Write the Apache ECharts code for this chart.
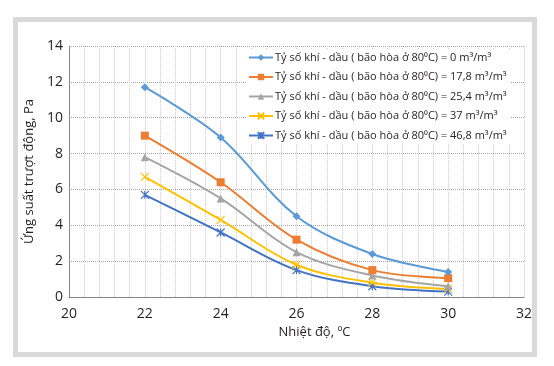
<!DOCTYPE html>
<html><head><meta charset="utf-8">
<script src="https://cdn.jsdelivr.net/npm/echarts@6/dist/echarts.min.js"></script>
<style>html,body{margin:0;padding:0;background:#fff}#c{width:554px;height:366px}</style>
</head><body><div id="c"></div>
<script>
var temps = [22, 24, 26, 28, 30];
var seriesNames = [
  'Tỷ số khí - dầu ( bão hòa ở 80⁰C) = 0 m³/m³',
  'Tỷ số khí - dầu ( bão hòa ở 80⁰C) = 17,8 m³/m³',
  'Tỷ số khí - dầu ( bão hòa ở 80⁰C) = 25,4 m³/m³',
  'Tỷ số khí - dầu ( bão hòa ở 80⁰C) = 37 m³/m³',
  'Tỷ số khí - dầu ( bão hòa ở 80⁰C) = 46,8 m³/m³'
];
var s0 = [11.7, 8.9, 4.5, 2.4, 1.4];
var s1 = [9.0, 6.4, 3.2, 1.5, 1.05];
var s2 = [7.8, 5.5, 2.5, 1.2, 0.6];
var s3 = [6.7, 4.3, 1.8, 0.8, 0.45];
var s4 = [5.7, 3.6, 1.5, 0.6, 0.3];
var colors = ['#5B9BD5', '#ED7D31', '#A5A5A5', '#FFC000', '#4472C4'];
var symbols = ['diamond', 'rect', 'triangle',
  'path://M0,0L10,10M10,0L0,10',
  'path://M0,0L10,10M10,0L0,10M5,0L5,10'];
var sizes = [8, 8, 8, 8, 8];
var allData = [s0, s1, s2, s3, s4];

var FONT = 'Open Sans';
var chart = echarts.init(document.getElementById('c'));
var series = allData.map(function (d, i) {
  return {
    name: seriesNames[i], type: 'line', smooth: 0.35,
    data: temps.map(function (t, j) { return [t, d[j]]; }),
    symbol: symbols[i], symbolSize: sizes[i],
    lineStyle: { color: colors[i], width: 2 },
    itemStyle: { color: colors[i], borderColor: colors[i], borderWidth: i >= 3 ? 1.2 : 0 },
    z: 10 - i
  };
});
chart.setOption({
  animation: false,
  textStyle: { fontFamily: FONT },
  grid: { left: 69, right: 30, top: 46, bottom: 69 },
  graphic: [{
    type: 'rect', shape: { x: 15.5, y: 19.5, width: 519, height: 335 },
    style: { fill: 'none', stroke: '#d9d9d9', lineWidth: 5 }, z: -1
  }],
  legend: {
    orient: 'vertical', left: 246, top: 50, itemGap: 8.5,
    itemWidth: 24, itemHeight: 8,
    backgroundColor: '#fff', padding: [2, 4, 2, 2],
    textStyle: { fontFamily: FONT, fontSize: 11, color: '#231f20', padding: [0, 0, 0, -3] },
    data: seriesNames
  },
  xAxis: {
    type: 'value', min: 20, max: 32, interval: 2,
    name: 'Nhiệt độ, ºC', nameLocation: 'middle', nameGap: 26,
    nameTextStyle: { fontFamily: FONT, fontSize: 13, color: '#231f20', padding: [0, 0, 0, 36] },
    axisLine: { lineStyle: { color: '#868686', width: 1 } },
    axisTick: { show: false },
    axisLabel: { fontSize: 14, color: '#231f20', margin: 10 },
    splitLine: { show: true, lineStyle: { color: '#cfcfcf', type: 'dotted', width: 1 } },
    minorSplitLine: { show: true, lineStyle: { color: '#cfcfcf', type: 'dotted', width: 1 } },
    minorTick: { show: false, splitNumber: 5 }
  },
  yAxis: {
    type: 'value', min: 0, max: 14, interval: 2,
    name: 'Ứng suất trượt động, Pa', nameLocation: 'middle', nameGap: 32,
    nameTextStyle: { fontFamily: FONT, fontSize: 13, color: '#231f20' },
    axisLine: { show: true, lineStyle: { color: '#868686', width: 1 } },
    axisTick: { show: false },
    axisLabel: { fontSize: 14, color: '#231f20', margin: 6 },
    splitLine: { show: true, lineStyle: { color: '#a6a6a6', type: 'dotted', width: 1 } }
  },
  series: series
});
</script></body></html>
